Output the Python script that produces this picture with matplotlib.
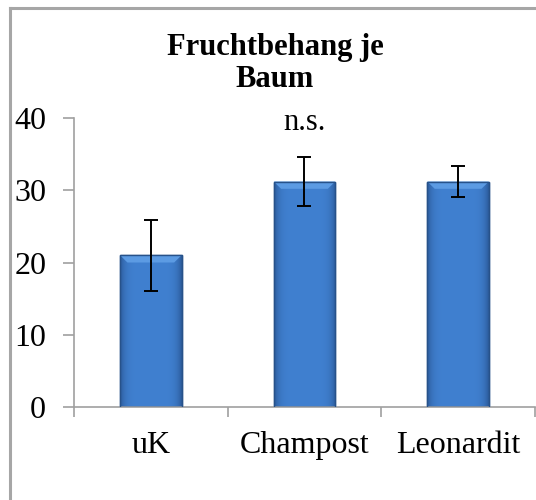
import numpy as np
import matplotlib
matplotlib.use("Agg")
import matplotlib.pyplot as plt
from matplotlib.patches import Polygon

# data
categories = ['uK', 'Champost', 'Leonardit']
values = [21.0, 31.2, 31.2]
errors = [4.9, 3.4, 2.1]
title = 'Fruchtbehang je\nBaum'
note = 'n.s.'

plt.rcParams['font.family'] = ['Liberation Serif', 'DejaVu Serif']

fig = plt.figure(figsize=(5.36, 5.0), dpi=100)
ax = fig.add_axes([0.138, 0.186, 0.860, 0.578])

x = np.arange(len(categories))
bars = ax.bar(x, values, width=0.40, color='#3b78c5', edgecolor='#27528a',
              linewidth=1.0, zorder=2)

# bevel look: horizontal gradient + light top facet
c_mid = np.array([0x40, 0x80, 0xd0]) / 255
c_edge = np.array([0x2c, 0x5c, 0x9c]) / 255
t = np.linspace(-1, 1, 60)
w = np.clip(np.abs(t) ** 6, 0, 1)
row = c_mid[None, :] * (1 - w[:, None]) + c_edge[None, :] * w[:, None]
img = np.repeat(row[None, :, :], 2, axis=0)
for b in bars:
    bx, by = b.get_x(), b.get_y()
    bw, bh = b.get_width(), b.get_height()
    im = ax.imshow(img, extent=[bx, bx + bw, by, by + bh], aspect='auto',
                   interpolation='bilinear', zorder=2.5)
    im.set_clip_path(b)
    top = by + bh
    ax.add_patch(Polygon([(bx, top), (bx + bw, top), (bx + bw * 0.88, top - 1.0),
                          (bx + bw * 0.12, top - 1.0)], closed=True,
                         color='#5c9be3', lw=0, zorder=3))
    ax.add_patch(plt.Rectangle((bx, by), bw, bh, fill=False,
                               edgecolor='#27528a', lw=1.0, zorder=3.2))

ax.errorbar(x, values, yerr=errors, fmt='none', ecolor='black',
            elinewidth=1.4, capsize=5, capthick=1.4, zorder=4)

ax.set_xlim(-0.5, len(categories) - 0.5)
ax.set_ylim(0, 40)
ax.set_yticks([0, 10, 20, 30, 40])
ax.set_xticks(x)
ax.set_xticklabels(categories)
ax.set_xticks(np.arange(-0.5, len(categories), 1.0), minor=True)
ax.tick_params(axis='x', which='major', length=0, pad=17, labelsize=23)
ax.tick_params(axis='x', which='minor', length=7, color='#a0a0a0', width=1.2)
ax.tick_params(axis='y', length=8, color='#a0a0a0', width=1.2, pad=12,
               labelsize=23)
for s in ['top', 'right']:
    ax.spines[s].set_visible(False)
for s in ['left', 'bottom']:
    ax.spines[s].set_color('#a0a0a0')
    ax.spines[s].set_linewidth(1.2)

ax.text(1, 39.4, note, ha='center', va='center', fontsize=22)
fig.text(0.513, 0.873, title, ha='center', va='center', fontsize=22,
         fontweight='bold', linespacing=1.12)

# outer chart border (left and top)
fig.add_artist(plt.Line2D([0.019, 0.019], [0, 0.984], color='#a6a6a6',
                          lw=2.2, transform=fig.transFigure))
fig.add_artist(plt.Line2D([0.019, 1.0], [0.984, 0.984], color='#a6a6a6',
                          lw=2.2, transform=fig.transFigure))

fig.savefig('out.png', dpi=100)
